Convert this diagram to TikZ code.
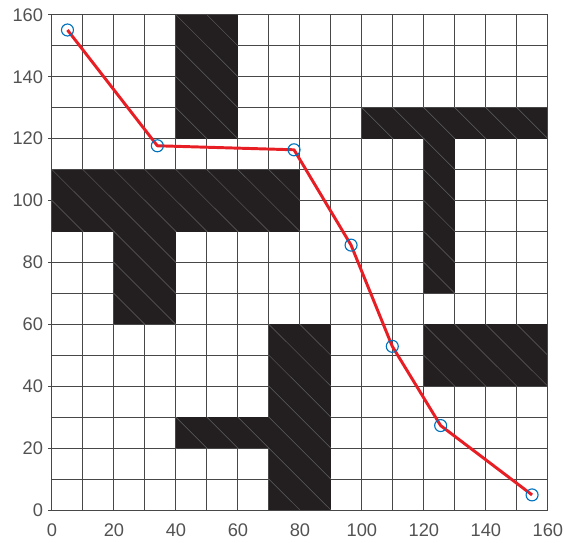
\documentclass[tikz,border=0pt]{standalone}
\usepackage{fontspec}
\setmainfont{Liberation Sans}
\definecolor{obstacle}{RGB}{35,31,32}
\definecolor{routered}{RGB}{232,30,37}
\definecolor{nodeblue}{RGB}{0,114,189}
\begin{document}
\begin{tikzpicture}[x=0.0775cm, y=0.0774cm,
        gridline/.style={black!72, line width=0.7pt},
        hatch/.style={black!62, line width=0.35pt},
        ticklabel/.style={text=black!68, inner sep=0pt, font=\fontsize{13}{15}\selectfont},
        route/.style={routered, line width=2.1pt, line join=round},
        waypoint/.style={draw=nodeblue, circle, minimum size=0.3cm, inner sep=0pt, line width=0.8pt}]
    \useasboundingbox (-16.77, -10.34) rectangle (165.2, 164.8);

    % Grid
    \foreach \v in {0,10,...,160} {
        \draw[gridline] (\v, 0) -- (\v, 160);
        \draw[gridline] (0, \v) -- (160, \v);
    }

    % Obstacles
    \foreach \xa/\ya/\xb/\yb in {40/120/60/160, 0/90/80/110, 20/60/40/90, 100/120/160/130,
                                 120/70/130/120, 120/40/160/60, 70/0/90/60, 40/20/70/30} {
        \begin{scope}
            \clip (\xa, \ya) rectangle (\xb, \yb);
            \fill[obstacle] (\xa, \ya) rectangle (\xb, \yb);
            \foreach \c in {10,20,...,320}
                \draw[hatch] (\c, 0) -- (0, \c);
        \end{scope}
    }

    % Frame and ticks
    \draw[gridline] (0, 0) rectangle (160, 160);
    \foreach \v in {0,20,...,160} {
        \draw[gridline] (-1.2, \v) -- (0, \v);
        \node[ticklabel, anchor=east] (ylab\v) at (-2.8, \v) {\v};
        \node[ticklabel, anchor=north] (xlab\v) at (\v, -4.2) {\v};
    }

    % Path
    \coordinate (p1) at (5, 155.1);
    \coordinate (p2) at (34, 117.7);
    \coordinate (p3) at (78.1, 116.4);
    \coordinate (p4) at (96.5, 85.6);
    \coordinate (p5) at (109.8, 52.9);
    \coordinate (p6) at (125.4, 27.3);
    \coordinate (p7) at (154.9, 4.9);
    \draw[route] (p1) -- (p2) -- (p3) -- (p4) -- (p5) -- (p6) -- (p7);
    \foreach \i in {1,...,7}
        \node[waypoint] (w\i) at (p\i) {};
\end{tikzpicture}
\end{document}
